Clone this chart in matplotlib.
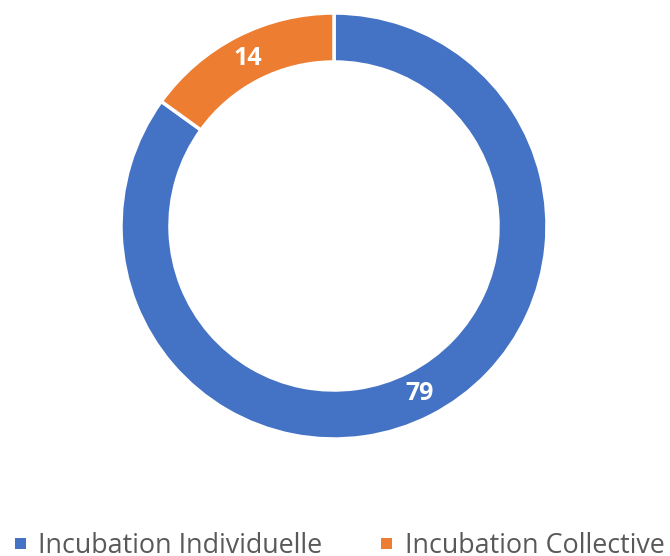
import matplotlib
matplotlib.use("Agg")
import matplotlib.pyplot as plt
from matplotlib.patches import Rectangle
import numpy as np

categories = ["Incubation Individuelle", "Incubation Collective"]
values = [79, 14]
colors = ["#4472C4", "#ED7D31"]

W, H = 670, 556
fig = plt.figure(figsize=(W/100, H/100), dpi=100)
cx, cy, R = 334, 226, 213
ax = fig.add_axes([(cx-R)/W, (H-cy-R)/H, 2*R/W, 2*R/H])
width = 0.23
wedges, _ = ax.pie(values, colors=colors, startangle=90, counterclock=False,
                   radius=1, wedgeprops=dict(width=width, edgecolor="white", linewidth=2.5))
total = sum(values)
start = 90.0
rlab = 1 - width/2
for v in values:
    ang = start - v/total*360/2
    start -= v/total*360
    ax.text(rlab*np.cos(np.radians(ang)), rlab*np.sin(np.radians(ang)), str(v),
            ha="center", va="center", color="white", fontsize=18, fontweight="bold",
            family="Open Sans")
ax.set_xlim(-1, 1); ax.set_ylim(-1, 1)
ax.set_aspect("equal")
ax.axis("off")

# legend
base_y = 1 - 553/H
xs = [15, 381]
txs = [38, 405]
for x, tx, c, lab in zip(xs, txs, colors, categories):
    fig.patches.append(Rectangle((x/W, 1 - 549/H), 11/W, 11/H, transform=fig.transFigure,
                                 facecolor=c, edgecolor="none"))
    fig.text(tx/W, base_y, lab, ha="left", va="baseline", fontsize=19.4, color="#595959",
             family="Open Sans")

fig.savefig("out.png", dpi=100)
